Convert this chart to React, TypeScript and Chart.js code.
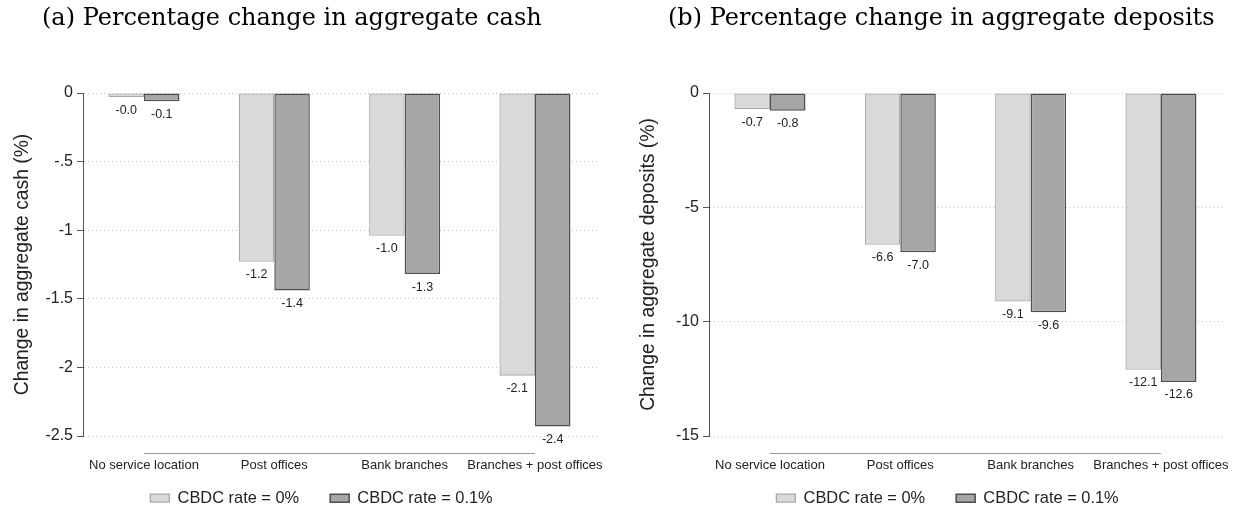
import React, { useEffect, useRef } from "react";
import { Chart, registerables } from "chart.js";

Chart.register(...registerables);

// ---------- data ----------
const categories = [
  "No service location",
  "Post offices",
  "Bank branches",
  "Branches + post offices",
];
const seriesLabels = ["CBDC rate = 0%", "CBDC rate = 0.1%"];

const cashRate0 = [-0.03, -1.23, -1.04, -2.06];
const cashRate01 = [-0.06, -1.44, -1.32, -2.43];
const cashTicks = [0, -0.5, -1, -1.5, -2, -2.5];

const depositsRate0 = [-0.71, -6.64, -9.12, -12.1];
const depositsRate01 = [-0.78, -6.96, -9.59, -12.64];
const depositTicks = [0, -5, -10, -15];

const panelTitles = [
  "(a) Percentage change in aggregate cash",
  "(b) Percentage change in aggregate deposits",
];
const yTitles = [
  "Change in aggregate cash (%)",
  "Change in aggregate deposits (%)",
];

// ---------- styles ----------
const SANS = '"Liberation Sans", Arial, Helvetica, sans-serif';
const SERIF = '"DejaVu Serif", "Liberation Serif", serif';
const TEXT = "#222222";
const LIGHT_FILL = "#d9d9d9";
const LIGHT_EDGE = "#a9a9a9";
const DARK_FILL = "#a6a6a6";
const DARK_EDGE = "#4f4f4f";

const W = 618;
const H = 510;

function fmtTick(v: number): string {
  if (v === 0) return "0";
  return String(v).replace(/^-0\./, "-.");
}

const valueLabels = {
  id: "valueLabels",
  afterDatasetsDraw(chart: any) {
    const ctx = chart.ctx;
    ctx.save();
    ctx.font = `12.5px ${SANS}`;
    ctx.fillStyle = TEXT;
    ctx.textAlign = "center";
    ctx.textBaseline = "middle";
    chart.data.datasets.forEach((ds: any, di: number) => {
      const meta = chart.getDatasetMeta(di);
      meta.data.forEach((el: any, i: number) => {
        const v = ds.data[i].y as number;
        ctx.fillText(v.toFixed(1), el.x, el.y + 13);
      });
    });
    ctx.restore();
  },
};

const categoryLine = {
  id: "categoryLine",
  afterDraw(chart: any) {
    const xs = chart.scales.x;
    const ctx = chart.ctx;
    const y = chart.chartArea.bottom + 17;
    ctx.save();
    ctx.strokeStyle = "#9a9a9a";
    ctx.lineWidth = 1;
    ctx.beginPath();
    ctx.moveTo(xs.getPixelForValue(0), y + 0.5);
    ctx.lineTo(xs.getPixelForValue(categories.length - 1), y + 0.5);
    ctx.stroke();
    ctx.restore();
  },
};

const shiftBoxes = {
  id: "shiftBoxes",
  afterLayout(chart: any, _args: any, opts: any) {
    if (chart.titleBlock && opts.title) {
      chart.titleBlock.left += opts.title;
      chart.titleBlock.right += opts.title;
    }
    if (chart.legend) {
      if (opts.legend) {
        chart.legend.left += opts.legend;
        chart.legend.right += opts.legend;
      }
      if (opts.legendY) {
        chart.legend.top += opts.legendY;
      }
    }
  },
};

function Panel(props: {
  left: number;
  title: string;
  yTitle: string;
  rate0: number[];
  rate01: number[];
  ticks: number[];
}) {
  const ref = useRef<HTMLCanvasElement | null>(null);
  useEffect(() => {
    if (!ref.current) return;
    const { rate0, rate01, ticks } = props;
    const chart = new Chart(ref.current, {
      type: "bar",
      data: {
        datasets: [
          {
            label: seriesLabels[0],
            data: rate0.map((v, i) => ({ x: i, y: v })),
            backgroundColor: LIGHT_FILL,
            borderColor: LIGHT_EDGE,
            borderWidth: 1.3,
            borderSkipped: false,
          },
          {
            label: seriesLabels[1],
            data: rate01.map((v, i) => ({ x: i, y: v })),
            backgroundColor: DARK_FILL,
            borderColor: DARK_EDGE,
            borderWidth: 1.5,
            borderSkipped: false,
          },
        ],
      },
      options: {
        responsive: false,
        animation: false,
        layout: { padding: { left: 0, right: 21, top: 0, bottom: 0 } },
        datasets: {
          bar: { barPercentage: 1, categoryPercentage: 0.545 },
        },
        scales: {
          x: {
            type: "linear",
            min: -0.468,
            max: 3.476,
            offset: false,
            grid: { display: false },
            border: { display: false },
            afterBuildTicks: (scale: any) => {
              scale.ticks = categories.map((_, i) => ({ value: i }));
            },
            afterFit: (scale: any) => {
              scale.height = 40;
              scale.paddingLeft = 0;
              scale.paddingRight = 0;
            },
            ticks: {
              autoSkip: false,
              maxRotation: 0,
              padding: 14,
              color: TEXT,
              font: { family: SANS, size: 13 },
              callback: (v: any) => categories[Math.round(Number(v))] ?? "",
            },
          },
          y: {
            type: "linear",
            min: Math.min(...ticks),
            max: Math.max(...ticks),
            afterBuildTicks: (scale: any) => {
              scale.ticks = ticks.map((v) => ({ value: v }));
            },
            afterFit: (scale: any) => {
              scale.width = 83;
            },
            grid: {
              color: "#c4c4c4",
              lineWidth: 1,
              drawTicks: true,
              tickLength: 6,
              tickColor: "#555555",
            },
            border: { display: true, color: "#555555", width: 1, dash: [1, 3] },
            ticks: {
              padding: 4,
              color: TEXT,
              font: { family: SANS, size: 16 },
              callback: (v: any) => fmtTick(Number(v)),
            },
            title: {
              display: true,
              text: props.yTitle,
              color: TEXT,
              font: { family: SANS, size: 19.3 },
              padding: { top: 11.5, bottom: 0 },
            },
          },
        },
        plugins: {
          title: {
            display: true,
            text: props.title,
            align: "start",
            color: "#000",
            font: { family: SERIF, size: 24, weight: "normal" },
            padding: { top: 4, bottom: 60.2 },
          },
          legend: {
            display: true,
            position: "bottom",
            maxHeight: 34,
            labels: {
              boxWidth: 19,
              boxHeight: 8,
              padding: 31,
              color: TEXT,
              font: { family: SANS, size: 16.4 },
            },
          },
          tooltip: { enabled: false },
          shiftBoxes: { title: 42, legend: 23, legendY: -17 },
        } as any,
      },
      plugins: [valueLabels, categoryLine, shiftBoxes],
    } as any);
    return () => chart.destroy();
  }, []);
  return (
    <div style={{ position: "absolute", left: props.left, top: 0, width: W, height: H }}>
      <canvas ref={ref} width={W} height={H} style={{ width: W, height: H, display: "block" }} />
    </div>
  );
}

export default function App() {
  return (
    <div style={{ position: "absolute", left: 0, top: 0, width: 1244, height: 510, background: "#fff" }}>
      <Panel left={0} title={panelTitles[0]} yTitle={yTitles[0]} rate0={cashRate0} rate01={cashRate01} ticks={cashTicks} />
      <Panel left={626} title={panelTitles[1]} yTitle={yTitles[1]} rate0={depositsRate0} rate01={depositsRate01} ticks={depositTicks} />
    </div>
  );
}
